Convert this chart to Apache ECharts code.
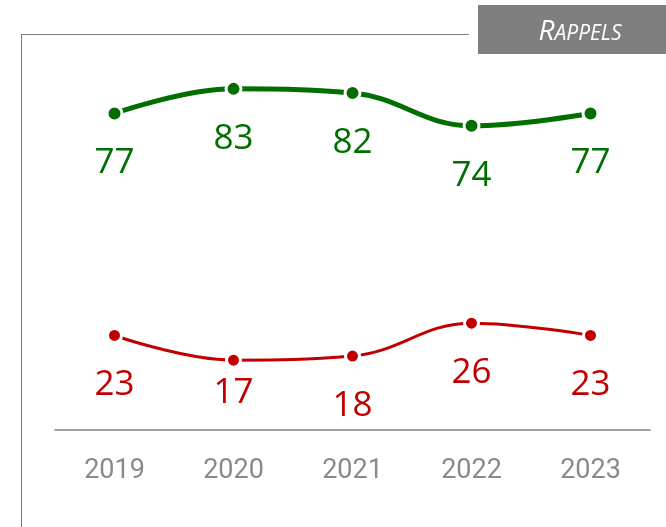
<!DOCTYPE html>
<html>
<head>
<meta charset="utf-8">
<script src="https://cdn.jsdelivr.net/npm/echarts@6/dist/echarts.min.js"></script>
<style>html,body{margin:0;padding:0;background:#fff;}#c{width:666px;height:527px;}</style>
</head>
<body>
<div id="c"></div>
<script>
var categories = ['2019', '2020', '2021', '2022', '2023'];
var greenValues = [77, 83, 82, 74, 77];
var redValues = [23, 17, 18, 26, 23];
var titleCap = 'R';
var titleRest = 'APPELS';

var chart = echarts.init(document.getElementById('c'));
function lineSeries(values, color, width, size, labelOffsets) {
  return {
    type: 'line',
    data: values.map(function (v, i) {
      var item = { value: v };
      if (labelOffsets && labelOffsets[i] != null) {
        item.label = { offset: [0, labelOffsets[i]] };
      }
      return item;
    }),
    smooth: 0.4,
    symbol: 'circle',
    symbolSize: size,
    lineStyle: { color: color, width: width },
    itemStyle: { color: color, borderColor: '#fff', borderWidth: 3 },
    label: {
      show: true,
      position: 'inside',
      offset: [0, 50],
      color: color,
      fontSize: 35,
      fontFamily: 'Open Sans'
    },
    emphasis: { disabled: true },
    silent: true,
    animation: false
  };
}
chart.setOption({
  animation: false,
  grid: { left: 55, right: 16, top: 19, bottom: 97, containLabel: false },
  xAxis: {
    type: 'category',
    data: categories,
    boundaryGap: true,
    axisLine: { show: true, lineStyle: { color: '#7f7f7f', width: 1.5 } },
    axisTick: { show: false },
    axisLabel: { color: '#8a8a8a', fontSize: 27, fontFamily: 'Roboto', margin: 28 },
    splitLine: { show: false }
  },
  yAxis: {
    type: 'value',
    min: 0,
    max: 100,
    show: false
  },
  graphic: [
    { type: 'line', shape: { x1: 21, y1: 34.5, x2: 469, y2: 34.5 }, style: { stroke: '#808080', lineWidth: 1 } },
    { type: 'line', shape: { x1: 21.5, y1: 34, x2: 21.5, y2: 527 }, style: { stroke: '#808080', lineWidth: 1 } },
    { type: 'rect', shape: { x: 478, y: 5, width: 188, height: 49 }, style: { fill: '#7f7f7f' } },
    {
      type: 'text', x: 580, y: 32,
      style: {
        text: '{a|' + titleCap + '}{b|' + titleRest + '}',
        align: 'center', verticalAlign: 'middle',
        rich: {
          a: { fontSize: 28, fontStyle: 'italic', fontFamily: 'Open Sans', fill: '#fff', color: '#fff' },
          b: { fontSize: 21, fontStyle: 'italic', fontFamily: 'Open Sans', fill: '#fff', color: '#fff', padding: [4, 0, 0, 0] }
        }
      }
    }
  ],
  series: [
    lineSeries(greenValues, '#006f00', 5, 15),
    lineSeries(redValues, '#c00000', 3, 14, [null, 33, null, null, null])
  ]
});
</script>
</body>
</html>
